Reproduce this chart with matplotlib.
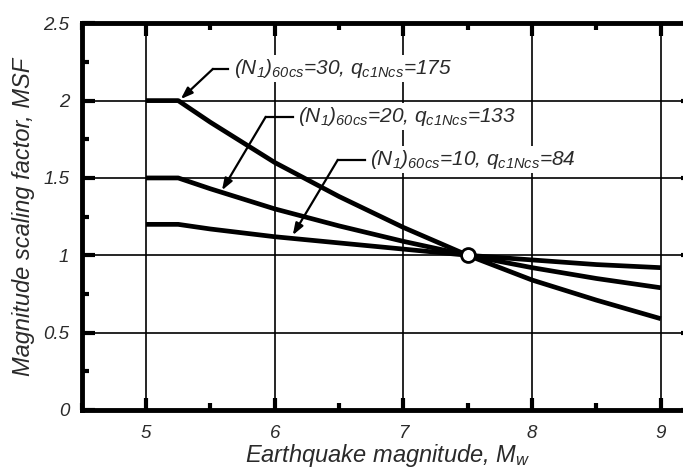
import matplotlib

matplotlib.use("Agg")
import matplotlib.pyplot as plt
from matplotlib.ticker import MultipleLocator, FormatStrFormatter

plt.rcParams["font.family"] = ["Liberation Sans", "DejaVu Sans"]
plt.rcParams["font.style"] = "italic"
plt.rcParams["mathtext.fontset"] = "custom"
plt.rcParams["mathtext.rm"] = "Liberation Sans:italic"
plt.rcParams["mathtext.it"] = "Liberation Sans:italic"

# Magnitude values
magnitude = [5.0, 5.25, 5.5, 6.0, 6.5, 7.0, 7.5, 8.0, 8.5, 9.0]

# MSF curves, one per soil density
msf_n30 = [2.0, 2.0, 1.86, 1.60, 1.38, 1.18, 1.0, 0.84, 0.71, 0.59]
msf_n20 = [1.5, 1.5, 1.43, 1.30, 1.19, 1.09, 1.0, 0.92, 0.85, 0.79]
msf_n10 = [1.2, 1.2, 1.17, 1.12, 1.08, 1.04, 1.0, 0.97, 0.94, 0.92]

curve_labels = [
    r"$(N_1)_{60cs}$=30, $q_{c1Ncs}$=175",
    r"$(N_1)_{60cs}$=20, $q_{c1Ncs}$=133",
    r"$(N_1)_{60cs}$=10, $q_{c1Ncs}$=84",
]

# reference point where all curves meet
ref_magnitude = [7.5]
ref_msf = [1.0]

TEXT_COLOR = "#2a2a2a"


def main() -> None:
    fig = plt.figure(figsize=(6.83, 4.70), dpi=100)
    # right spine falls just outside the picture, as in the original
    ax = fig.add_axes([0.1196, 0.1277, 0.895, 0.8228])

    for values in (msf_n30, msf_n20, msf_n10):
        ax.plot(magnitude, values, color="black", lw=3.4,
                solid_capstyle="butt", zorder=4)

    ax.plot(ref_magnitude, ref_msf, "o", ms=10, mfc="white", mec="black",
            mew=2.0, zorder=6)

    # label -> (text start, knee, arrow tip) in data units
    leaders = [
        ((5.68, 2.205), (5.52, 2.205), (5.27, 2.01)),
        ((6.18, 1.895), (5.93, 1.895), (5.59, 1.42)),
        ((6.74, 1.617), (6.49, 1.617), (6.14, 1.13)),
    ]
    for label, (start, knee, tip) in zip(curve_labels, leaders):
        ax.text(start[0], start[1], label, fontsize=15, color=TEXT_COLOR,
                va="center", ha="left", zorder=5,
                bbox=dict(facecolor="white", edgecolor="none", pad=1.5))
        ax.plot([start[0] - 0.04, knee[0]], [start[1], knee[1]],
                color="black", lw=1.6, zorder=5)
        ax.annotate("", xy=tip, xytext=knee, zorder=5,
                    arrowprops=dict(arrowstyle="-|>,head_length=0.7,head_width=0.25",
                                    color="black", lw=1.6, shrinkA=0, shrinkB=0))

    ax.set_xlim(4.5, 9.25)
    ax.set_ylim(0, 2.5)
    ax.xaxis.set_major_locator(MultipleLocator(1))
    ax.xaxis.set_minor_locator(MultipleLocator(0.5))
    ax.yaxis.set_major_locator(MultipleLocator(0.5))
    ax.yaxis.set_minor_locator(MultipleLocator(0.25))
    ax.yaxis.set_major_formatter(FormatStrFormatter("%g"))
    ax.set_xticks([5, 6, 7, 8, 9])

    ax.grid(True, which="major", color="black", lw=1.2, zorder=1)
    ax.set_axisbelow(True)

    ax.tick_params(which="both", direction="in", top=True, right=True,
                   colors="black", labelcolor=TEXT_COLOR, labelsize=13.5)
    ax.tick_params(which="major", length=9, width=3)
    ax.tick_params(which="minor", length=5, width=3)
    ax.tick_params(axis="x", which="major", pad=11)
    ax.tick_params(axis="y", which="major", pad=9)

    for spine in ax.spines.values():
        spine.set_linewidth(3.5)

    ax.set_xlabel("Earthquake magnitude, $M_w$", fontsize=17,
                  color=TEXT_COLOR, labelpad=0)
    ax.set_ylabel("Magnitude scaling factor, MSF", fontsize=17,
                  color=TEXT_COLOR, labelpad=6)

    fig.savefig("out.png", dpi=100)


if __name__ == "__main__":
    main()
